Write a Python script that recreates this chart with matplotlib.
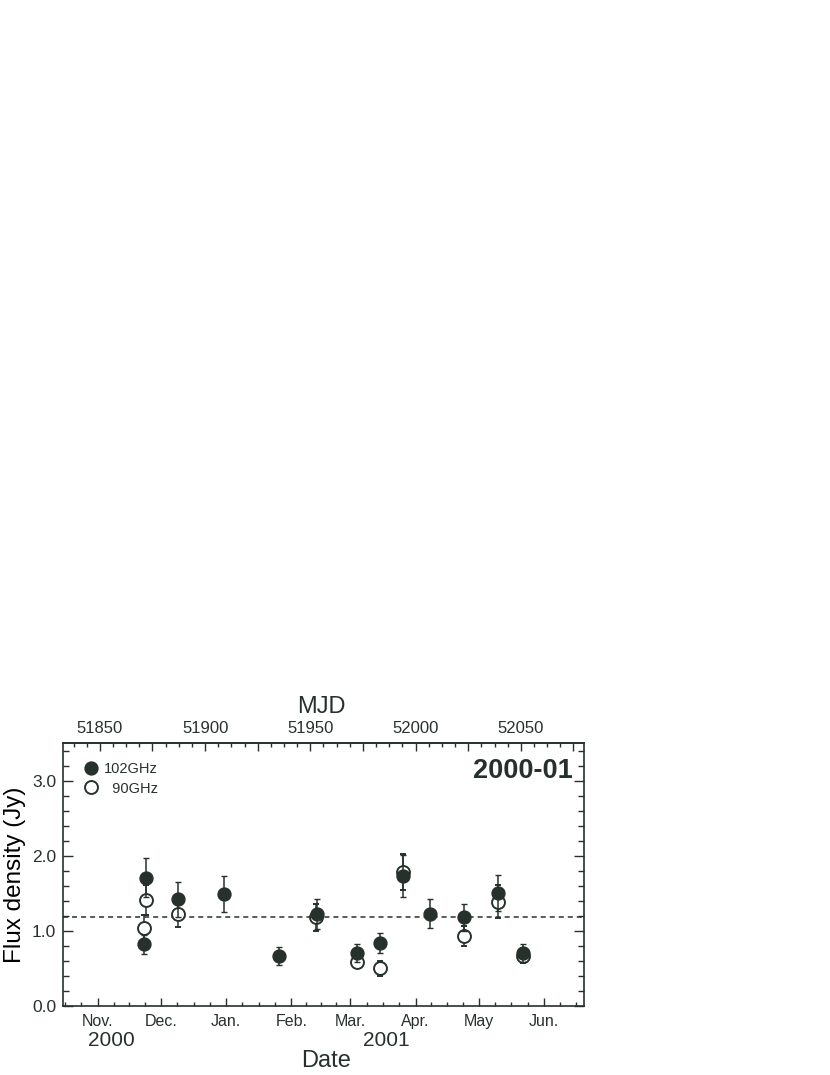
import numpy as np
import matplotlib
matplotlib.use('Agg')
import matplotlib.pyplot as plt
from matplotlib.ticker import FixedLocator, MultipleLocator, FuncFormatter
from matplotlib.lines import Line2D

plt.rcParams['font.family'] = ['Liberation Sans', 'DejaVu Sans']
ink = '#27312b'
plt.rcParams['text.color'] = ink
plt.rcParams['axes.edgecolor'] = ink
plt.rcParams['xtick.color'] = ink
plt.rcParams['ytick.color'] = ink

# 102 GHz (filled)
mjd_102 = [51871.9, 51871.1, 51887.2, 51908.8, 51935.0, 51953.2, 51972.2,
           51983.1, 51993.8, 52006.7, 52023.0, 52039.1, 52050.9]
flux_102 = [1.71, 0.82, 1.42, 1.49, 0.67, 1.23, 0.70,
            0.84, 1.73, 1.23, 1.18, 1.51, 0.71]
err_102 = [0.26, 0.13, 0.23, 0.24, 0.12, 0.20, 0.12,
           0.13, 0.28, 0.19, 0.18, 0.24, 0.12]

# 90 GHz (open)
mjd_90 = [51871.9, 51871.1, 51887.2, 51952.9, 51972.2, 51983.1,
          51993.8, 52023.0, 52039.1, 52050.9]
flux_90 = [1.41, 1.04, 1.23, 1.18, 0.59, 0.50,
           1.78, 0.93, 1.39, 0.67]
err_90 = [0.20, 0.17, 0.18, 0.18, 0.08, 0.10,
          0.24, 0.13, 0.22, 0.10]

mean_flux = 1.18

# month starts (MJD), Oct 2000 .. Jul 2001
month_mjd = [51818, 51849, 51879, 51910, 51941, 51969, 52000, 52030, 52061, 52091]
month_names = ['', 'Nov.', 'Dec.', 'Jan.', 'Feb.', 'Mar.', 'Apr.', 'May', 'Jun.', '']

fig = plt.figure(figsize=(8.3, 10.75), dpi=100)
ax = fig.add_axes([63 / 830, 69 / 1075, 521 / 830, 263 / 1075])

ax.errorbar(mjd_90, flux_90, yerr=err_90, fmt='o', ms=9.3, mfc='white', mec=ink,
            mew=1.4, ecolor=ink, elinewidth=1.1, capsize=2, capthick=1.1, zorder=3)
ax.errorbar(mjd_102, flux_102, yerr=err_102, fmt='o', ms=9.3, mfc=ink, mec=ink,
            mew=1.0, ecolor=ink, elinewidth=1.1, capsize=2, capthick=1.1, zorder=4)
ax.axhline(mean_flux, color=ink, lw=1.1, ls=(0, (3.3, 2.6)), zorder=2)

ax.set_xlim(51832.5, 52080)
ax.set_ylim(0, 3.5)

# bottom axis: months
ax.xaxis.set_major_locator(FixedLocator(month_mjd))
ax.set_xticklabels(month_names)
minor_b = []
for a, b in zip(month_mjd[:-1], month_mjd[1:]):
    minor_b += [a + (b - a) * k / 4 for k in (1, 2, 3)]
ax.xaxis.set_minor_locator(FixedLocator(minor_b))
ax.tick_params(axis='x', which='major', direction='in', length=5.5, width=1.0,
               labelsize=11.5, pad=6, top=False)
ax.tick_params(axis='x', which='minor', direction='in', length=2.8, width=1.0, top=False)

# y axis
ax.yaxis.set_major_locator(MultipleLocator(1.0))
ax.yaxis.set_minor_locator(MultipleLocator(0.2))
ax.yaxis.set_major_formatter(FuncFormatter(lambda v, p: '%.1f' % v))
ax.tick_params(axis='y', which='major', direction='in', length=7.5, width=1.0,
               labelsize=12.5, pad=5, right=True)
ax.tick_params(axis='y', which='minor', direction='in', length=4.3, width=1.0, right=True)

for s in ax.spines.values():
    s.set_linewidth(1.2)

# top axis: MJD
top = ax.secondary_xaxis('top')
top.xaxis.set_major_locator(MultipleLocator(25))
top.xaxis.set_minor_locator(MultipleLocator(6.25))
top.xaxis.set_major_formatter(FuncFormatter(lambda v, p: '%d' % v if v % 50 == 0 else ''))
top.tick_params(which='major', direction='in', length=5.5, width=1.0, labelsize=12, pad=5)
top.tick_params(which='minor', direction='in', length=2.8, width=1.0)
top.spines['top'].set_linewidth(1.2)

ax.set_ylabel('Flux density (Jy)', fontsize=17.5, labelpad=4)

fig.text(321 / 830, 1 - 707 / 1075, 'MJD', fontsize=17, ha='center', va='center')
fig.text(326 / 830, 1 - 1061 / 1075, 'Date', fontsize=17, ha='center', va='center')
fig.text(111 / 830, 1 - 1040 / 1075, '2000', fontsize=15, ha='center', va='center')
fig.text(386 / 830, 1 - 1040 / 1075, '2001', fontsize=15, ha='center', va='center')

ax.text(0.979, 0.895, '2000-01', transform=ax.transAxes, fontsize=19.5,
        fontweight='bold', ha='right', va='center')

handles = [Line2D([], [], ls='none', marker='o', ms=9.3, mfc=ink, mec=ink),
           Line2D([], [], ls='none', marker='o', ms=9.3, mfc='white', mec=ink, mew=1.4)]
ax.legend(handles, ['102GHz', '  90GHz'], loc='upper left', bbox_to_anchor=(0.039, 0.926),
          frameon=False, fontsize=10.5, handlelength=1.0, handletextpad=0.4,
          borderpad=0, borderaxespad=0, labelspacing=0.35)

fig.savefig('out.png', dpi=100)
